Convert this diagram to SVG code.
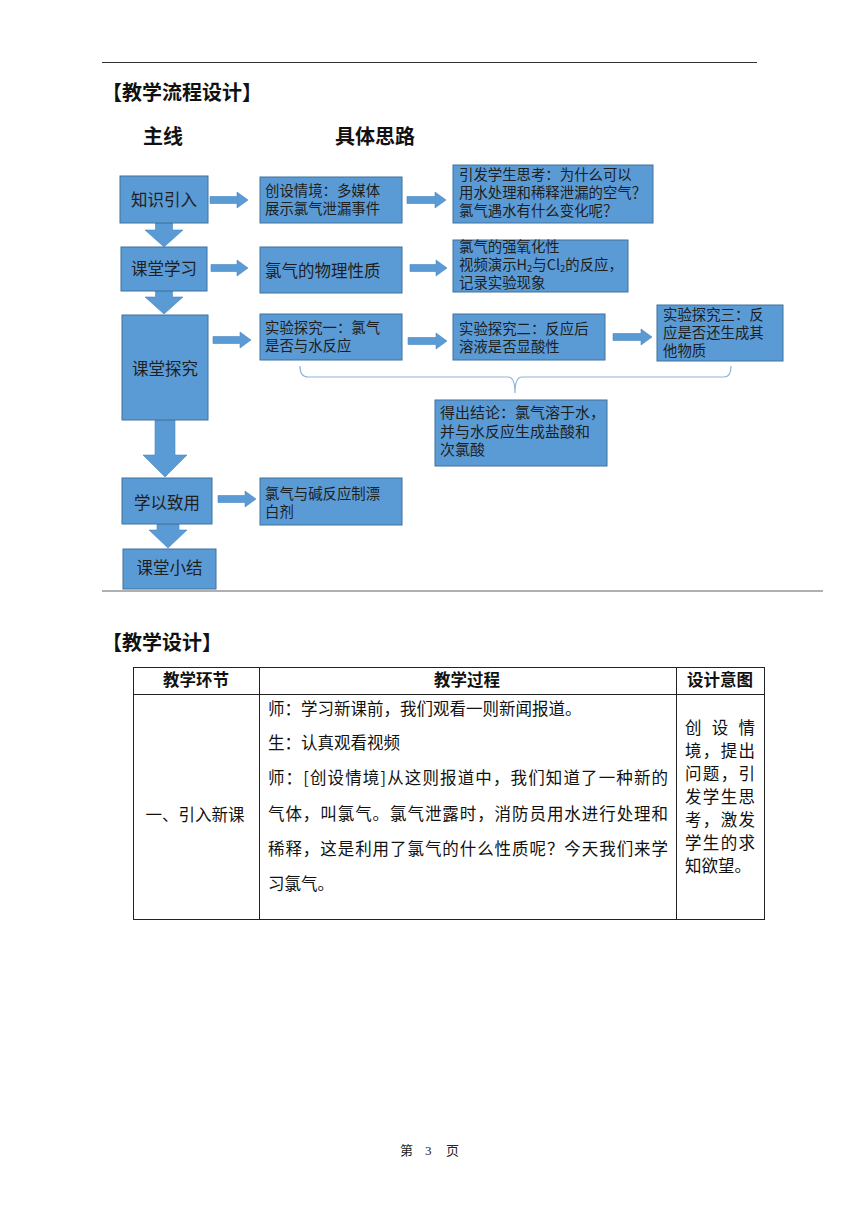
<svg xmlns="http://www.w3.org/2000/svg" width="860" height="1216" viewBox="0 0 860 1216">
<style>
.bx{fill:#5b9bd5;stroke:#41719c;stroke-width:1}
.ar{fill:#5b9bd5;stroke:#4a86c0;stroke-width:0.6}
.t{font-family:"Noto Sans CJK SC","Noto Sans",sans-serif;fill:#1e1e1e}
.big{font-size:16.5px}
.sm{font-size:14.4px}
.hd{font-family:"Noto Sans CJK SC",sans-serif;font-size:20px;font-weight:700;fill:#111}
.tb{font-family:"Noto Sans CJK SC",sans-serif;font-size:16.5px;fill:#111}
.th{font-family:"Noto Sans CJK SC",sans-serif;font-size:16.5px;font-weight:700;fill:#111}
.ln{stroke:#222;stroke-width:1;fill:none}
</style>
<rect width="860" height="1216" fill="#fff"/>
<line x1="102" y1="62.5" x2="757" y2="62.5" stroke="#333" stroke-width="1"/>
<text class="hd" x="102" y="100">【教学流程设计】</text>
<text class="hd" x="143" y="144" font-weight="500">主线</text>
<text class="hd" x="335" y="144" font-weight="500">具体思路</text>

<g id="connectors">
<path class="ar" d="M210,196.5H237V192L248,200L237,208V203.5H210Z"/>
<path class="ar" d="M407,196.5H435V192L446,200L435,208V203.5H407Z"/>
<path class="ar" d="M211,264.5H237V260L248,268L237,276V271.5H211Z"/>
<path class="ar" d="M410,264.5H436V260L447,268L436,276V271.5H410Z"/>
<path class="ar" d="M213,336.5H240V332L251,340L240,348V343.5H213Z"/>
<path class="ar" d="M408,337.5H436V333L447,341L436,349V344.5H408Z"/>
<path class="ar" d="M613,333.5H641V329L652,337L641,345V340.5H613Z"/>
<path class="ar" d="M218,495.5H245V491L256,499L245,507V502.5H218Z"/>
<path class="ar" d="M155.5,223H172.5V230H183L164,247L145,230H155.5Z"/>
<path class="ar" d="M155.5,291H172.5V297H183L164,314L145,297H155.5Z"/>
<path class="ar" d="M155,420H175V455H187L165,477L143,455H155Z"/>
<path class="ar" d="M157,524H179V530H187L168,548L149,530H157Z"/>
<path d="M300,366Q300,377 308,377H508Q515,377 515,393Q515,377 522,377H724Q731,377 731,366" fill="none" stroke="#8fb3d9" stroke-width="1.2"/>
</g>

<g id="n1"><rect class="bx" x="120" y="176" width="88" height="47"/><text class="t big" x="164" y="206" text-anchor="middle">知识引入</text></g>
<g id="n2"><rect class="bx" x="260" y="177" width="142" height="46"/><text class="t sm" x="265" y="196">创设情境：多媒体<tspan x="265" dy="18">展示氯气泄漏事件</tspan></text></g>
<g id="n3"><rect class="bx" x="453" y="165" width="200" height="58"/><text class="t sm" x="459" y="180">引发学生思考：为什么可以<tspan x="459" dy="18">用水处理和稀释泄漏的空气？</tspan><tspan x="459" dy="18">氯气遇水有什么变化呢？</tspan></text></g>
<g id="n4"><rect class="bx" x="121" y="247" width="86" height="44"/><text class="t big" x="164" y="275" text-anchor="middle">课堂学习</text></g>
<g id="n5"><rect class="bx" x="260" y="247" width="142" height="46"/><text class="t big" x="265" y="277">氯气的物理性质</text></g>
<g id="n6"><rect class="bx" x="453" y="240" width="175" height="52"/><text class="t sm" x="459" y="252">氯气的强氧化性<tspan x="459" dy="18">视频演示H</tspan><tspan font-size="9.5" dy="2">2</tspan><tspan dy="-2">与Cl</tspan><tspan font-size="9.5" dy="2">2</tspan><tspan dy="-2">的反应，</tspan><tspan x="459" dy="18">记录实验现象</tspan></text></g>
<g id="n7"><rect class="bx" x="122" y="315" width="86" height="105"/><text class="t big" x="165" y="375" text-anchor="middle">课堂探究</text></g>
<g id="n8"><rect class="bx" x="260" y="314" width="142" height="46"/><text class="t sm" x="265" y="333">实验探究一：氯气<tspan x="265" dy="18">是否与水反应</tspan></text></g>
<g id="n9"><rect class="bx" x="453" y="314" width="152" height="46"/><text class="t sm" x="459" y="334">实验探究二：反应后<tspan x="459" dy="18">溶液是否显酸性</tspan></text></g>
<g id="n10"><rect class="bx" x="657" y="305" width="126" height="56"/><text class="t sm" x="663" y="320">实验探究三：反<tspan x="663" dy="18">应是否还生成其</tspan><tspan x="663" dy="18">他物质</tspan></text></g>
<g id="n11"><rect class="bx" x="435" y="400" width="172" height="66"/><text class="t" font-size="15" x="440" y="418">得出结论：氯气溶于水，<tspan x="440" dy="18.5">并与水反应生成盐酸和</tspan><tspan x="440" dy="18.5">次氯酸</tspan></text></g>
<g id="n12"><rect class="bx" x="122" y="478" width="90" height="46"/><text class="t big" x="167" y="509" text-anchor="middle">学以致用</text></g>
<g id="n13"><rect class="bx" x="260" y="478" width="142" height="47"/><text class="t sm" x="265" y="499">氯气与碱反应制漂<tspan x="265" dy="18">白剂</tspan></text></g>
<g id="n14"><rect class="bx" x="123" y="549" width="93" height="40"/><text class="t big" x="169.5" y="574" text-anchor="middle">课堂小结</text></g>

<line x1="102" y1="591" x2="823" y2="591" stroke="#b0b0b0" stroke-width="2"/>

<text class="hd" x="102" y="650">【教学设计】</text>

<g id="table">
<rect class="ln" x="133.5" y="667.5" width="631" height="252"/>
<line class="ln" x1="133.5" y1="694.5" x2="764.5" y2="694.5"/>
<line class="ln" x1="259.5" y1="667.5" x2="259.5" y2="919.5"/>
<line class="ln" x1="676.5" y1="667.5" x2="676.5" y2="919.5"/>
<text class="th" x="196" y="686" text-anchor="middle">教学环节</text>
<text class="th" x="467" y="686" text-anchor="middle">教学过程</text>
<text class="th" x="720" y="686" text-anchor="middle">设计意图</text>
<text class="tb" x="195" y="821" text-anchor="middle">一、引入新课</text>
<text class="tb" x="268" y="715">师：学习新课前，我们观看一则新闻报道。</text>
<text class="tb" x="268" y="749">生：认真观看视频</text>
<text class="tb" x="268" y="784" textLength="400" lengthAdjust="spacing">师：[创设情境]从这则报道中，我们知道了一种新的</text>
<text class="tb" x="268" y="820" textLength="400" lengthAdjust="spacing">气体，叫氯气。氯气泄露时，消防员用水进行处理和</text>
<text class="tb" x="268" y="855" textLength="400" lengthAdjust="spacing">稀释，这是利用了氯气的什么性质呢？今天我们来学</text>
<text class="tb" x="268" y="890">习氯气。</text>
<text class="tb" x="685" y="734"><tspan x="685" textLength="70" lengthAdjust="spacing">创设情</tspan><tspan x="685" dy="23" textLength="70" lengthAdjust="spacing">境，提出</tspan><tspan x="685" dy="23" textLength="70" lengthAdjust="spacing">问题，引</tspan><tspan x="685" dy="23" textLength="70" lengthAdjust="spacing">发学生思</tspan><tspan x="685" dy="23" textLength="70" lengthAdjust="spacing">考，激发</tspan><tspan x="685" dy="23" textLength="70" lengthAdjust="spacing">学生的求</tspan><tspan x="685" dy="23">知欲望。</tspan></text>
</g>

<g id="footer" font-family="'Noto Sans CJK SC',sans-serif" font-size="13" fill="#222">
<text x="400" y="1155">第</text>
<text x="425" y="1155" font-family="'Liberation Serif',serif">3</text>
<text x="446" y="1155">页</text>
</g>
</svg>
